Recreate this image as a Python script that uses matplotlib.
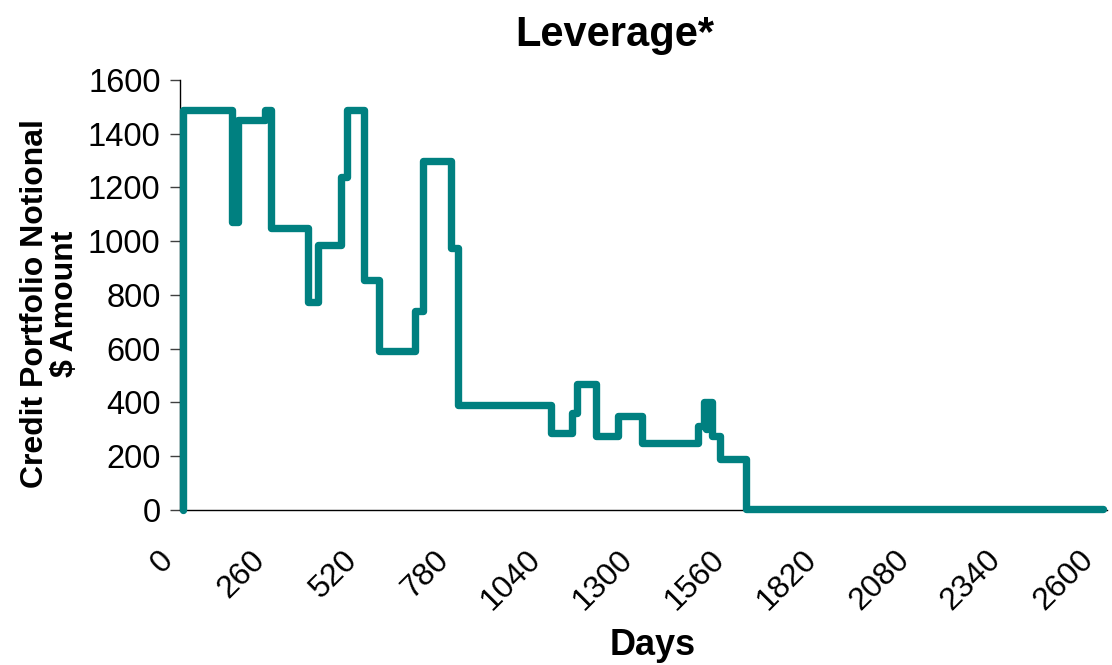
import matplotlib
matplotlib.use("Agg")
import matplotlib.pyplot as plt
from matplotlib.transforms import ScaledTranslation

plt.rcParams['font.family'] = ['Liberation Sans', 'DejaVu Sans']

# day on which the notional changes, and the level it changes to
days = [7, 8, 146, 150, 153, 157, 160, 165, 240, 258, 361, 390, 455, 472,
        521, 563, 664, 686, 765, 787, 1048, 1108, 1122, 1176, 1239, 1305,
        1465, 1480, 1486, 1490, 1496, 1499, 1503, 1526, 1600, 2609]
notional = [0, 1490, 1070, 1445, 1070, 1445, 1070, 1450, 1490, 1050, 775,
            985, 1240, 1490, 855, 590, 740, 1300, 975, 390, 285, 360, 470,
            275, 350, 250, 313, 400, 300, 400, 300, 400, 275, 190, 5, 5]

x_ticks = list(range(0, 2601, 260))
y_ticks = list(range(0, 1601, 200))

fig = plt.figure(figsize=(11.12, 6.65), dpi=100)
ax = fig.add_axes([0.1619, 0.2331, 0.8336, 0.6466])

ax.plot(days, notional, drawstyle='steps-post', color='#008080',
        linewidth=5.3, solid_joinstyle='round', solid_capstyle='round',
        clip_on=False, zorder=3)

ax.set_xlim(0, 2620)
ax.set_ylim(0, 1600)
ax.set_xticks(x_ticks)
ax.set_yticks(y_ticks)
ax.set_xticklabels([str(t) for t in x_ticks], rotation=45, ha='right',
                   va='top', rotation_mode='anchor')
ax.tick_params(axis='x', length=0, pad=25, labelsize=23)
ax.tick_params(axis='y', length=7, width=1, color='#404040', labelsize=23.5,
               pad=7)

# shift the slanted day labels a little to the left
shift = ScaledTranslation(-22 / 100, 0, fig.dpi_scale_trans)
for lbl in ax.get_xticklabels():
    lbl.set_transform(lbl.get_transform() + shift)

for side in ['top', 'right']:
    ax.spines[side].set_visible(False)
ax.spines['left'].set_linewidth(1)
ax.spines['bottom'].set_linewidth(1)

fig.text(0.553, 0.978, 'Leverage*', fontsize=30, fontweight='bold',
         ha='center', va='top')
ax.set_xlabel('Days', fontsize=26, fontweight='bold')
ax.xaxis.set_label_coords(0.51, -0.275)
ax.set_ylabel('Credit Portfolio Notional\n$ Amount', fontsize=23,
              fontweight='bold', linespacing=1.0)
ax.yaxis.set_label_coords(-0.108, 0.48)

fig.savefig('out.png', dpi=100)
